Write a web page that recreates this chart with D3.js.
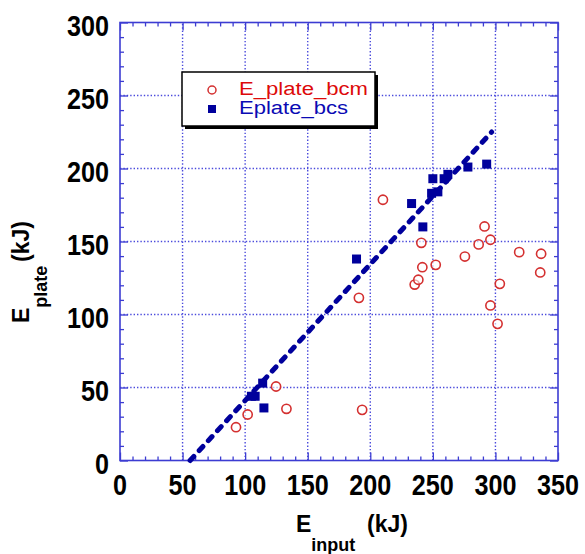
<!DOCTYPE html>
<html>
<head>
<meta charset="utf-8">
<script src="https://cdn.jsdelivr.net/npm/d3@7"></script>
<style>
  body { margin: 0; background: #fff; }
  svg { display: block; }
  text { font-family: "Liberation Sans", Arial, sans-serif; }
</style>
</head>
<body>
<svg id="chart"></svg>
<script>
// data
var xTicks = [0, 50, 100, 150, 200, 250, 300, 350];
var yTicks = [0, 50, 100, 150, 200, 250, 300];

// E_plate_bcm (open red circles)
var bcmInput = [92.7, 102, 124.7, 133, 193.5, 190.9, 210.1, 235.5, 238.4, 240.8, 241.6,
    252.3, 275.6, 286.6, 291.3, 296, 303.5, 296, 301.7, 319, 336.5, 335.8];
var bcmPlate = [22.8, 31.5, 50.7, 35.4, 34.7, 111.4, 178.6, 120.5, 123.8, 149.1, 132.4,
    134.0, 139.7, 148, 160.3, 151.2, 121, 106.2, 93.6, 142.7, 141.6, 128.8];

// Eplate_bcs (filled blue squares)
var bcsInput = [105, 108, 114, 115, 189, 233, 242, 249, 254, 250, 259, 262, 278, 293];
var bcsPlate = [44, 44, 53, 36, 138, 176, 160, 183, 184, 193, 193, 196, 201, 203];

// dashed fit line end points
var fitInput = [56, 297];
var fitPlate = [0, 225];

var legendNames = ["E_plate_bcm", "Eplate_bcs"];

const W = 585,
    H = 554,
    blue = "#00009c",
    red = "#d43030",
    frameBlue = "#3c3cd2";

var svg = d3.select("#chart").attr("width", W).attr("height", H);

var x = d3.scaleLinear().domain([0, 350]).range([120, 558]);
var y = d3.scaleLinear().domain([0, 300]).range([460.5, 22.5]);

var minorX = d3.range(0, 351, 10).filter(function(d) { return d % 50 !== 0; });
var minorY = d3.range(0, 301, 10).filter(function(d) { return d % 50 !== 0; });

// grid (dotted)
var grid = svg.append("g");
grid.selectAll(".gx")
    .data(xTicks.slice(1, -1))
    .enter().append("line")
    .attr("x1", function(d) { return x(d); })
    .attr("x2", function(d) { return x(d); })
    .attr("y1", y(0)).attr("y2", y(300));
grid.selectAll(".gy")
    .data(yTicks.slice(1, -1))
    .enter().append("line")
    .attr("y1", function(d) { return y(d); })
    .attr("y2", function(d) { return y(d); })
    .attr("x1", x(0)).attr("x2", x(350));
grid.selectAll("line")
    .attr("stroke", "#4b4bdc")
    .attr("stroke-width", 1.4)
    .attr("stroke-dasharray", "1.4,2");

// tick marks on all four sides, pointing inward
function ticks(axisFn, scale, values, size, transform) {
    svg.append("g")
        .attr("transform", transform)
        .call(axisFn(scale).tickValues(values).tickSize(size).tickFormat(""))
        .call(function(g) {
            g.select(".domain").remove();
            g.selectAll(".tick line").attr("stroke", frameBlue).attr("stroke-width", 1.3);
        });
}
ticks(d3.axisBottom, x, minorX, -4, "translate(0," + y(0) + ")");
ticks(d3.axisBottom, x, xTicks, -8, "translate(0," + y(0) + ")");
ticks(d3.axisTop, x, minorX, -4, "translate(0," + y(300) + ")");
ticks(d3.axisTop, x, xTicks, -8, "translate(0," + y(300) + ")");
ticks(d3.axisLeft, y, minorY, -4, "translate(" + x(0) + ",0)");
ticks(d3.axisLeft, y, yTicks, -8, "translate(" + x(0) + ",0)");
ticks(d3.axisRight, y, minorY, -4, "translate(" + x(350) + ",0)");
ticks(d3.axisRight, y, yTicks, -8, "translate(" + x(350) + ",0)");

// frame
svg.append("rect")
    .attr("x", x(0)).attr("y", y(300))
    .attr("width", x(350) - x(0)).attr("height", y(0) - y(300))
    .attr("fill", "none")
    .attr("stroke", frameBlue)
    .attr("stroke-width", 1.6);

// tick labels (condensed bold)
svg.append("g").selectAll("text")
    .data(xTicks)
    .enter().append("text")
    .attr("x", function(d) { return x(d); })
    .attr("y", 495)
    .attr("text-anchor", "middle")
    .attr("font-size", 29)
    .attr("font-weight", "bold")
    .attr("textLength", function(d) { return String(d).length * 14; })
    .attr("lengthAdjust", "spacingAndGlyphs")
    .text(function(d) { return d; });

svg.append("g").selectAll("text")
    .data(yTicks)
    .enter().append("text")
    .attr("x", 109)
    .attr("y", function(d) { return y(d) + 13.5; })
    .attr("text-anchor", "end")
    .attr("font-size", 29)
    .attr("font-weight", "bold")
    .attr("textLength", function(d) { return String(d).length * 14; })
    .attr("lengthAdjust", "spacingAndGlyphs")
    .text(function(d) { return d; });

// axis titles
var xt = svg.append("text")
    .attr("x", 296).attr("y", 532)
    .attr("font-size", 23).attr("font-weight", "bold");
xt.append("tspan").text("E");
xt.append("tspan").attr("font-size", 18).attr("dy", 19).text("input");
xt.append("tspan").attr("x", 367).attr("dy", -19).text("(kJ)");

var yt = svg.append("text")
    .attr("transform", "translate(29,323) rotate(-90)")
    .attr("font-size", 23).attr("font-weight", "bold");
yt.append("tspan").text("E");
yt.append("tspan").attr("font-size", 18).attr("dy", 18).text("plate");
yt.append("tspan").attr("x", 61).attr("dy", -18).text("(kJ)");

// dashed fit line
var fitLine = d3.line()
    .x(function(d) { return x(d[0]); })
    .y(function(d) { return y(d[1]); });
svg.append("path")
    .datum(d3.zip(fitInput, fitPlate))
    .attr("d", fitLine)
    .attr("fill", "none")
    .attr("stroke", blue)
    .attr("stroke-width", 5)
    .attr("stroke-linecap", "round")
    .attr("stroke-dasharray", "5.5,8");

// bcm circles
svg.append("g").selectAll("circle")
    .data(d3.zip(bcmInput, bcmPlate))
    .enter().append("circle")
    .attr("cx", function(d) { return x(d[0]); })
    .attr("cy", function(d) { return y(d[1]); })
    .attr("r", 4.6)
    .attr("fill", "#fff")
    .attr("fill-opacity", 0.6)
    .attr("stroke", red)
    .attr("stroke-width", 1.6);

// bcs squares
var sq = 9;
svg.append("g").selectAll("rect")
    .data(d3.zip(bcsInput, bcsPlate))
    .enter().append("rect")
    .attr("x", function(d) { return x(d[0]) - sq / 2; })
    .attr("y", function(d) { return y(d[1]) - sq / 2; })
    .attr("width", sq).attr("height", sq)
    .attr("fill", blue);

// legend
var lg = svg.append("g");
lg.append("rect")
    .attr("x", 185).attr("y", 75).attr("width", 193).attr("height", 54)
    .attr("fill", "#000");
lg.append("rect")
    .attr("x", 182).attr("y", 72).attr("width", 193).attr("height", 54)
    .attr("fill", "#fff").attr("stroke", "#000").attr("stroke-width", 1.5);
lg.append("circle")
    .attr("cx", 212).attr("cy", 90).attr("r", 4)
    .attr("fill", "none").attr("stroke", red).attr("stroke-width", 1.5);
lg.append("rect")
    .attr("x", 208).attr("y", 105).attr("width", 8).attr("height", 8)
    .attr("fill", blue);
lg.selectAll(".lt")
    .data(legendNames)
    .enter().append("text")
    .attr("x", 239)
    .attr("y", function(d, i) { return 95 + i * 19; })
    .attr("font-size", 18)
    .attr("fill", function(d, i) { return i === 0 ? "#dd0a0a" : "#0a0ab4"; })
    .attr("textLength", function(d, i) { return i === 0 ? 129 : 109; })
    .attr("lengthAdjust", "spacingAndGlyphs")
    .text(function(d) { return d; });
</script>
</body>
</html>
